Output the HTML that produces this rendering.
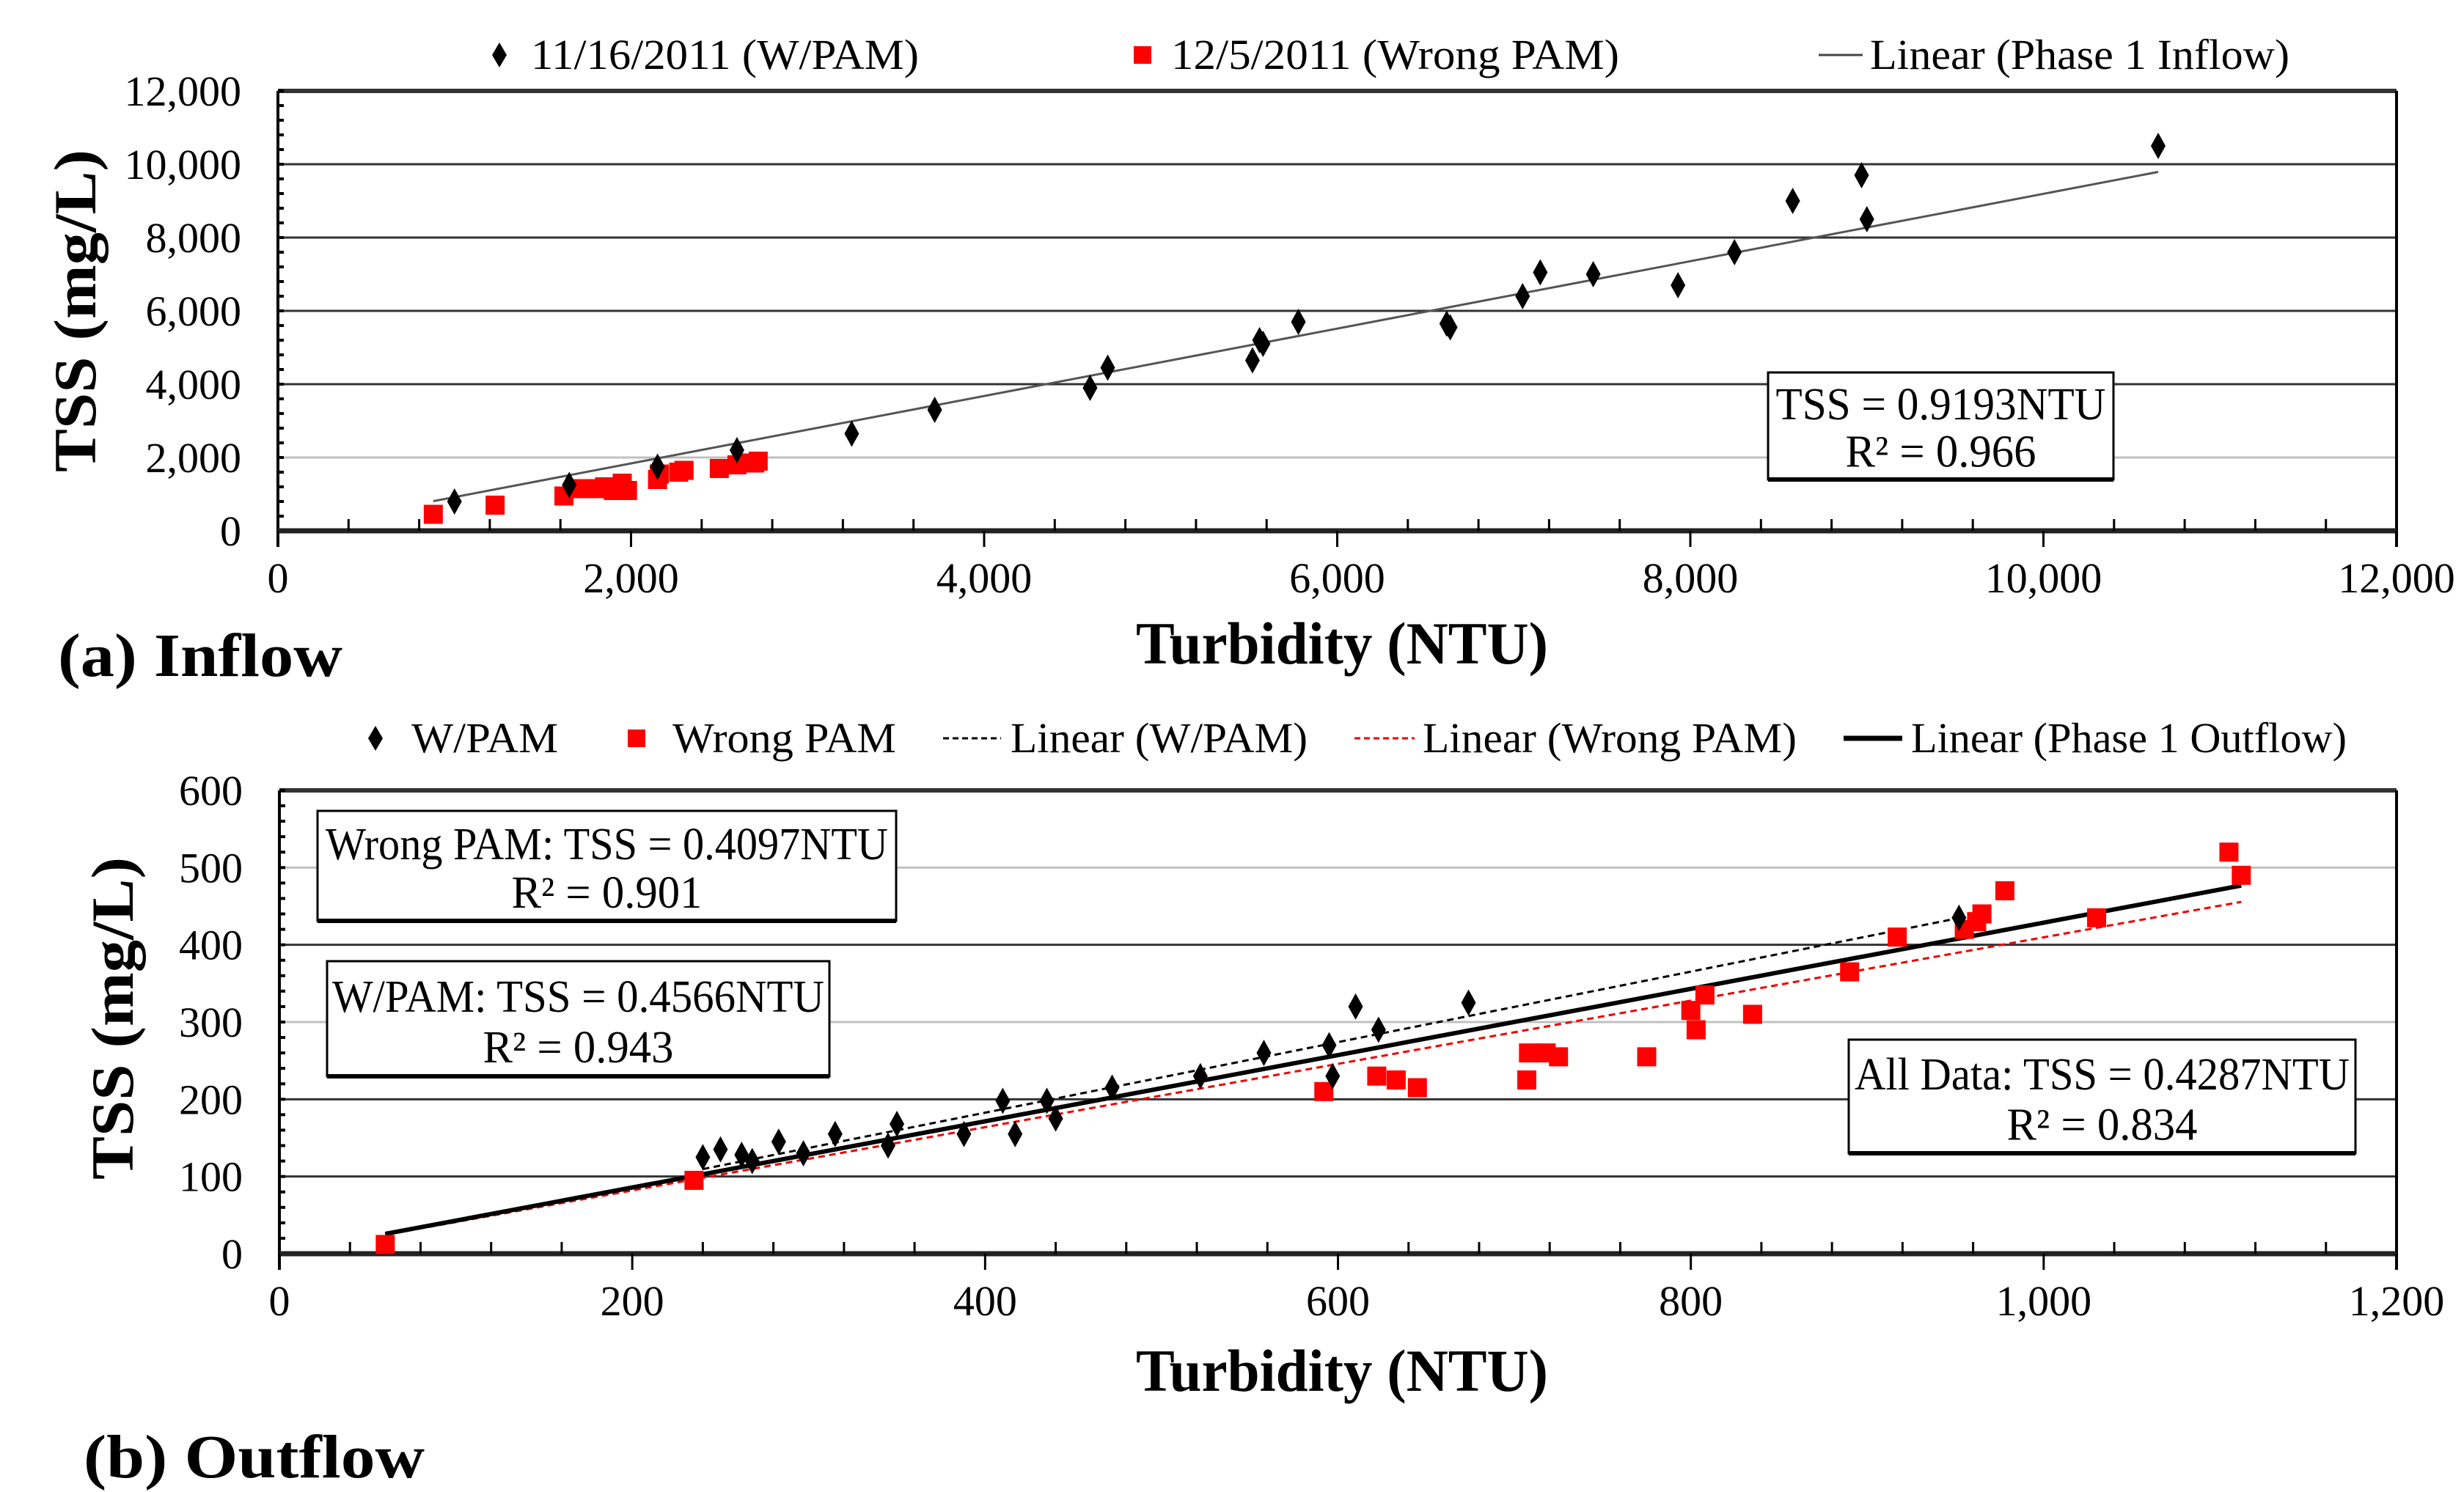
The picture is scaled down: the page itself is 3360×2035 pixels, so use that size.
<!DOCTYPE html>
<html><head><meta charset="utf-8"><style>
html,body{margin:0;padding:0;background:#fff}
svg{display:block;font-family:"Liberation Serif",serif}
</style></head><body>
<svg id="c" xmlns="http://www.w3.org/2000/svg" width="3360" height="2035" viewBox="0 0 3360 2035"></svg>
<script>
// ---- Panel (a) Inflow data ----
const inWx=[1000,1650,2150,2600,3250,3720,4600,4700,5520,5560,5580,5780,6620,6640,7050,7150,7450,7930,8250,8580,8970,9000,10650];
const inWy=[800,1250,1750,2200,2650,3300,3900,4450,4650,5200,5100,5700,5650,5550,6400,7050,7000,6700,7600,9000,9700,8500,10500];
const inRx=[880,1230,1620,1720,1800,1850,1900,1950,1980,2150,2160,2270,2300,2500,2600,2650,2700,2720];
const inRy=[450,700,950,1150,1150,1200,1100,1300,1100,1400,1550,1600,1650,1700,1800,1850,1850,1900];
const inSlope=[0.9193];
const inFitRange=[880,10650];
const inTicks=[0,2000,4000,6000,8000,10000,12000];
// ---- Panel (b) Outflow data ----
const outWx=[240,250,262,268,283,297,315,345,350,388,410,417,435,440,472,522,558,595,597,610,623,674,952];
const outWy=[125,135,128,120,145,130,155,140,168,155,198,155,198,175,215,230,260,270,230,320,290,325,435];
const outRx=[60,235,592,622,633,645,707,708,718,725,775,800,803,808,835,890,917,955,962,965,978,1030,1105,1112];
const outRy=[12,95,210,230,225,215,225,260,260,255,255,315,290,335,310,365,410,420,430,440,470,435,520,490];
const outSlopes=[0.4566,0.4097,0.4287];
const outFitW=[240,952];
const outFitAll=[60,1112];
const outXTicks=[0,200,400,600,800,1000,1200];
const outYTicks=[0,100,200,300,400,500,600];

const svg=document.getElementById('c');
const NS='http://www.w3.org/2000/svg';
function el(t,a,p){const e=document.createElementNS(NS,t);for(const k in a)e.setAttribute(k,a[k]);(p||svg).appendChild(e);return e;}
function txt(s,a,p){const e=el('text',a,p);e.textContent=s;return e;}
const fmt=v=>v.toLocaleString('en-US');

function panel(o){
  const g=el('g',{});
  
  
  const X=v=>o.L+(v-o.xmin)/(o.xmax-o.xmin)*(o.R-o.L);
  const Y=v=>o.B-(v-o.ymin)/(o.ymax-o.ymin)*(o.B-o.T);
  o.yt.forEach((v,i)=>{
    if(v!==o.ymin){
      const ln=el('line',{x1:o.L,x2:o.R,y1:Y(v),y2:Y(v),stroke:(o.light.includes(v)?'#c0c0c0':'#333'),'stroke-width':(v===o.ymax?6:3)},g);
      
      
    }
    const t=txt(fmt(v),{x:o.L-50,y:Y(v)+20,'text-anchor':'end','font-size':58},g);
    
    
  });
  const ny=(o.yt.length-1)*5;
  for(let i=0;i<=ny;i++){const y=o.B-(o.B-o.T)*i/ny;el('line',{x1:o.L,x2:o.L+8,y1:y,y2:y,stroke:'#000','stroke-width':4},g);}
  el('line',{x1:o.L,x2:o.L,y1:o.T,y2:o.B+22,stroke:'#000','stroke-width':4},g);
  el('line',{x1:o.R,x2:o.R,y1:o.T,y2:o.B+22,stroke:'#000','stroke-width':4},g);
  el('line',{x1:o.L,x2:o.R,y1:o.B,y2:o.B,stroke:'#222','stroke-width':7},g);
  const nx=(o.xt.length-1)*5;
  for(let i=0;i<=nx;i++){const x=o.L+(o.R-o.L)*i/nx;const maj=i%5===0;el('line',{x1:x,x2:x,y1:maj?o.B+22:o.B-16,y2:o.B,stroke:'#000','stroke-width':3},g);}
  o.xt.forEach(v=>{const t=txt(fmt(v),{x:X(v),y:o.B+84,'text-anchor':'middle','font-size':58},g);
    
    });
  o.extra(g,X,Y);
  o.rx.forEach((v,i)=>{const r=el('rect',{x:X(v)-13,y:Y(o.ry[i])-13,width:26,height:26,fill:'#f00'},g);
    
    });
  o.wx.forEach((v,i)=>{const x=X(v),y=Y(o.wy[i]);const p=el('path',{d:`M${x} ${y-18}L${x+10} ${y}L${x} ${y+18}L${x-10} ${y}Z`,fill:'#000'},g);
    
    });
  return {X,Y,g};
}
function box(g,x,y,w,h,l1,w1,l2,w2,name){
  const b=el('g',{},g);
  
  
  el('rect',{x,y,width:w,height:h,fill:'#fff',stroke:'#000','stroke-width':3},b);
  el('line',{x1:x,x2:x+w,y1:y+h,y2:y+h,stroke:'#000','stroke-width':6},b);
  txt(l1,{x:x+w/2,y:y+h*0.44,'text-anchor':'middle','font-size':62,textLength:w1,lengthAdjust:'spacingAndGlyphs'},b);
  txt(l2,{x:x+w/2,y:y+h*0.88,'text-anchor':'middle','font-size':62,textLength:w2,lengthAdjust:'spacingAndGlyphs'},b);
}

panel({name:'inflow-chart',L:379,R:3268,T:124,B:724,xmin:0,xmax:12000,ymin:0,ymax:12000,xt:inTicks,yt:inTicks,light:[2000],
  wx:inWx,wy:inWy,rx:inRx,ry:inRy,
  extra:(g,X,Y)=>{
    const l=el('line',{x1:X(inFitRange[0]),y1:Y(inFitRange[0]*inSlope[0]),x2:X(inFitRange[1]),y2:Y(inFitRange[1]*inSlope[0]),stroke:'#555','stroke-width':3},g);
    
    
    box(g,2411,508,471,146,'TSS = 0.9193NTU',450,'R² = 0.966',260,'equation-box-inflow');
  }});
panel({name:'outflow-chart',L:381,R:3268,T:1078,B:1710,xmin:0,xmax:1200,ymin:0,ymax:600,xt:outXTicks,yt:outYTicks,light:[300,500],
  wx:outWx,wy:outWy,rx:outRx,ry:outRy,
  extra:(g,X,Y)=>{
    const a=el('line',{x1:X(outFitAll[0]),y1:Y(outFitAll[0]*outSlopes[1]),x2:X(outFitAll[1]),y2:Y(outFitAll[1]*outSlopes[1]),stroke:'#e00','stroke-width':3,'stroke-dasharray':'9 6'},g);
    
    
    const b=el('line',{x1:X(outFitW[0]),y1:Y(outFitW[0]*outSlopes[0]),x2:X(outFitW[1]),y2:Y(outFitW[1]*outSlopes[0]),stroke:'#000','stroke-width':3,'stroke-dasharray':'9 6'},g);
    
    
    const c=el('line',{x1:X(outFitAll[0]),y1:Y(outFitAll[0]*outSlopes[2]),x2:X(outFitAll[1]),y2:Y(outFitAll[1]*outSlopes[2]),stroke:'#000','stroke-width':6},g);
    
    
    box(g,433,1106,789,150,'Wrong PAM: TSS = 0.4097NTU',767,'R² = 0.901',260,'equation-box-wrong-pam');
    box(g,446,1311,685,157,'W/PAM: TSS = 0.4566NTU',671,'R² = 0.943',260,'equation-box-wpam');
    box(g,2521,1418,691,155,'All Data: TSS = 0.4287NTU',675,'R² = 0.834',260,'equation-box-all-data');
  }});

function label(s,a,name){const t=txt(s,a);return t;}
label('Turbidity (NTU)',{x:1830,y:905,'text-anchor':'middle','font-size':82,'font-weight':'bold',textLength:562,lengthAdjust:'spacingAndGlyphs'},'x-axis-title-inflow');
label('(a) Inflow',{x:79,y:922,'font-size':84,'font-weight':'bold',textLength:388,lengthAdjust:'spacingAndGlyphs'},'panel-label-a');
label('TSS (mg/L)',{x:0,y:0,'text-anchor':'middle','font-size':82,'font-weight':'bold',textLength:440,lengthAdjust:'spacingAndGlyphs',transform:'translate(130,424) rotate(-90)'},'y-axis-title-inflow');
label('Turbidity (NTU)',{x:1830,y:1897,'text-anchor':'middle','font-size':82,'font-weight':'bold',textLength:562,lengthAdjust:'spacingAndGlyphs'},'x-axis-title-outflow');
label('(b) Outflow',{x:114,y:2015,'font-size':84,'font-weight':'bold',textLength:465,lengthAdjust:'spacingAndGlyphs'},'panel-label-b');
label('TSS (mg/L)',{x:0,y:0,'text-anchor':'middle','font-size':82,'font-weight':'bold',textLength:440,lengthAdjust:'spacingAndGlyphs',transform:'translate(181,1389) rotate(-90)'},'y-axis-title-outflow');

function legend(items,y,name){
  const g=el('g',{});
  
  
  items.forEach(it=>{
    const e=el('g',{},g);
    
    
    const x=it.mx;
    if(it.t==='d') el('path',{d:`M${x} ${y-17}L${x+10} ${y}L${x} ${y+17}L${x-10} ${y}Z`,fill:'#000'},e);
    else if(it.t==='s') el('rect',{x:x-12,y:y-12,width:24,height:24,fill:'#f00'},e);
    else el('line',{x1:x,x2:it.mx2,y1:y,y2:y,stroke:it.c,'stroke-width':it.w,'stroke-dasharray':it.dash||''},e);
    txt(it.s,{x:it.tx,y:y+19,'font-size':58,textLength:it.tw,lengthAdjust:'spacingAndGlyphs'},e);
  });
}
legend([
  {t:'d',mx:681,tx:724,tw:529,s:'11/16/2011 (W/PAM)'},
  {t:'s',mx:1558,tx:1597,tw:611,s:'12/5/2011 (Wrong PAM)'},
  {t:'l',mx:2480,mx2:2540,c:'#444',w:3,tx:2550,tw:572,s:'Linear (Phase 1 Inflow)'}
],75,'legend-inflow');
legend([
  {t:'d',mx:512,tx:561,tw:200,s:'W/PAM'},
  {t:'s',mx:868,tx:917,tw:305,s:'Wrong PAM'},
  {t:'l',mx:1286,mx2:1365,c:'#000',w:3,dash:'8 5',tx:1378,tw:405,s:'Linear (W/PAM)'},
  {t:'l',mx:1847,mx2:1929,c:'#e00',w:3,dash:'8 5',tx:1940,tw:510,s:'Linear (Wrong PAM)'},
  {t:'l',mx:2514,mx2:2594,c:'#000',w:7,tx:2606,tw:594,s:'Linear (Phase 1 Outflow)'}
],1007,'legend-outflow');
</script>
</body></html>
